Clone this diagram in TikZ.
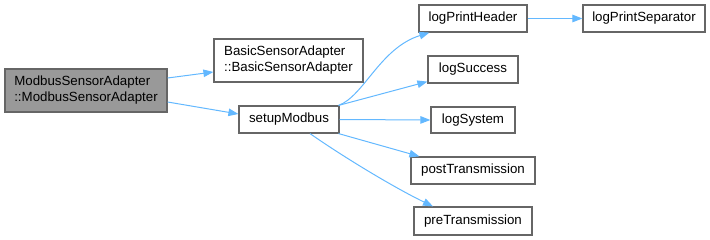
\documentclass[tikz,border=0pt]{standalone}
\usepackage{fontspec}
\setmainfont{Liberation Sans}
\usetikzlibrary{arrows.meta}
\definecolor{edgeblue}{HTML}{63B8FF}
\definecolor{boxline}{HTML}{666666}
\definecolor{curfill}{HTML}{999999}
\begin{document}
\begin{tikzpicture}[x=1pt,y=-1pt,
  fn/.style={draw=boxline, line width=1.2pt, fill=white, rectangle, inner sep=0pt,
    align=left, font=\fontsize{13.3}{16}\selectfont},
  cur/.style={fn, fill=curfill},
  call/.style={draw=edgeblue, line width=1pt, -{Triangle[length=10pt,width=7.5pt]}}]
  \useasboundingbox (0,0) rectangle (710,240);

  % function boxes
  \node[cur, minimum width=162pt, minimum height=43pt] (mod) at (86,90.5)
    {ModbusSensorAdapter\\::ModbusSensorAdapter};
  \node[fn, minimum width=149pt, minimum height=43pt] (basic) at (288.5,60.5)
    {BasicSensorAdapter\\::BasicSensorAdapter};
  \node[fn, minimum width=100pt, minimum height=27pt] (setup) at (289,119.5) {setupModbus};
  \node[fn, minimum width=108pt, minimum height=27pt] (hdr) at (473,18.5) {logPrintHeader};
  \node[fn, minimum width=122pt, minimum height=27pt] (sep) at (644,18.5) {logPrintSeparator};
  \node[fn, minimum width=90pt, minimum height=27pt] (succ) at (473,69.5) {logSuccess};
  \node[fn, minimum width=84pt, minimum height=26pt] (sys) at (473,120) {logSystem};
  \node[fn, minimum width=124pt, minimum height=27pt] (post) at (473,170.5) {postTransmission};
  \node[fn, minimum width=118pt, minimum height=28pt] (pre) at (473,221) {preTransmission};

  % call edges
  \draw[call] ([yshift=12.5pt]mod.east) -- ([yshift=-11.5pt]basic.west);
  \draw[call] ([yshift=-11.5pt]mod.east) -- ([yshift=5.5pt]setup.west);
  \draw[call] ([xshift=-1pt]setup.north east) .. controls (364,96) and (380,48) .. ([xshift=11pt]hdr.south west);
  \draw[call] ([xshift=-1pt]setup.north east) -- ([yshift=2pt]succ.south west);
  \draw[call] (setup.east) -- (sys.west);
  \draw[call] ([xshift=-1pt]setup.south east) -- ([xshift=9pt]post.north west);
  \draw[call] ([xshift=21pt]setup.south) .. controls (345,158) and (395,188) .. ([xshift=-40pt]pre.north);
  \draw[call] (hdr.east) -- (sep.west);
\end{tikzpicture}
\end{document}
